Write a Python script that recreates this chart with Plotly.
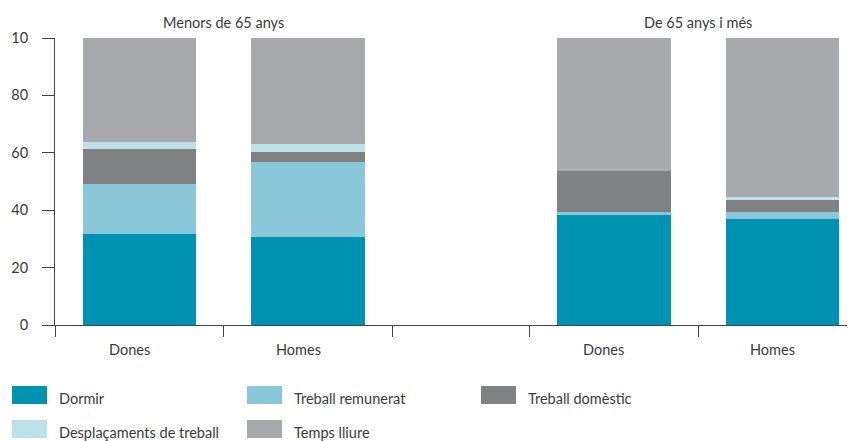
import plotly.graph_objects as go

# ---- data ----
group_titles = ["Menors de 65 anys", "De 65 anys i més"]
bar_labels = ["Dones", "Homes", "Dones", "Homes"]
series_names = ["Dormir", "Treball remunerat", "Treball domèstic",
                "Desplaçaments de treball", "Temps lliure"]
dormir = [31.7, 30.6, 38.3, 36.9]
treball_remunerat = [17.4, 26.2, 1.0, 2.4]
treball_domestic = [12.2, 3.5, 14.3, 4.2]
desplacaments = [2.5, 2.8, 0.0, 1.1]
temps_lliure = [36.2, 36.9, 46.4, 55.4]
y_tick_vals = [0, 20, 40, 60, 80, 100]
y_tick_text = ["0", "20", "40", "60", "80", "10"]

# ---- style ----
colors = ["#0092B3", "#8AC8D9", "#808183", "#BEE0E9", "#A8A9AD"]
FONT = "Lato"
TXT = "#3a3a3a"
OFF = 8  # page body margin offset
W, H = 855 - OFF, 441 - OFF
ML, MR, MT, MB = 55 - OFF, 0, 38 - OFF, 116
PW, PH = W - ML - MR, H - MT - MB

# bar positions on a numeric axis (gap between groups narrower than a full slot)
xpos = [0, 1, 2.81, 3.81]
boundaries = [-0.5, 0.5, 1.5, 2.31, 3.31, 4.31]
group_centers = [0.5, 3.31]

values = [dormir, treball_remunerat, treball_domestic, desplacaments, temps_lliure]

fig = go.Figure()
for name, vals, col in zip(series_names, values, colors):
    fig.add_trace(go.Bar(x=xpos, y=vals, name=name, marker=dict(color=col, line=dict(width=0)),
                         width=0.674, showlegend=False))

# helpers: convert screenshot pixel coords to paper coords
def px_x(px):
    return (px - OFF - ML) / PW

def px_y(py):
    return (H - MB - (py - OFF)) / PH

annotations = []
for gx, t in zip(group_centers, group_titles):
    annotations.append(dict(x=gx, xref="x", y=px_y(22), yref="paper", text=t, showarrow=False,
                            font=dict(family=FONT, size=14.5, color=TXT), xanchor="center", yanchor="middle"))
for bx, t in zip(xpos, bar_labels):
    annotations.append(dict(x=bx - 0.06, xref="x", y=px_y(349), yref="paper", text=t, showarrow=False,
                            font=dict(family=FONT, size=14.5, color=TXT), xanchor="center", yanchor="middle"))

# custom legend (large swatches)
leg_pos = [(12, 386), (247, 386), (481, 386), (12, 420), (247, 420)]
shapes = []
for (lx, ly), name, col in zip(leg_pos, series_names, colors):
    shapes.append(dict(type="rect", xref="paper", yref="paper",
                       x0=px_x(lx), x1=px_x(lx + 35), y0=px_y(ly + 18), y1=px_y(ly),
                       fillcolor=col, line=dict(width=0)))
    annotations.append(dict(x=px_x(lx + 45), xref="paper", y=px_y(ly + 12), yref="paper", text=name,
                            showarrow=False, xanchor="left", yanchor="middle",
                            font=dict(family=FONT, size=14.5, color=TXT)))

fig.update_layout(
    width=W, height=H,
    margin=dict(l=ML, r=MR, t=MT, b=MB),
    paper_bgcolor="white", plot_bgcolor="white",
    barmode="stack", bargap=0,
    showlegend=False,
    font=dict(family=FONT, color=TXT),
    xaxis=dict(range=[-0.5, 4.24], tickmode="array", tickvals=boundaries,
               ticktext=[""] * len(boundaries), ticks="outside", ticklen=11, tickwidth=1,
               tickcolor="#444", showline=True, linecolor="#444", linewidth=1,
               showgrid=False, zeroline=False, fixedrange=True),
    yaxis=dict(range=[0, 100], tickmode="array", tickvals=y_tick_vals, ticktext=y_tick_text,
               ticks="outside", ticklen=12, tickwidth=1, tickcolor="#444",
               showline=True, linecolor="#444", linewidth=1, showgrid=False, zeroline=False,
               tickfont=dict(family=FONT, size=14.5, color=TXT), ticklabelstandoff=11),
    annotations=annotations,
    shapes=shapes,
)

fig.write_html("out.html")
